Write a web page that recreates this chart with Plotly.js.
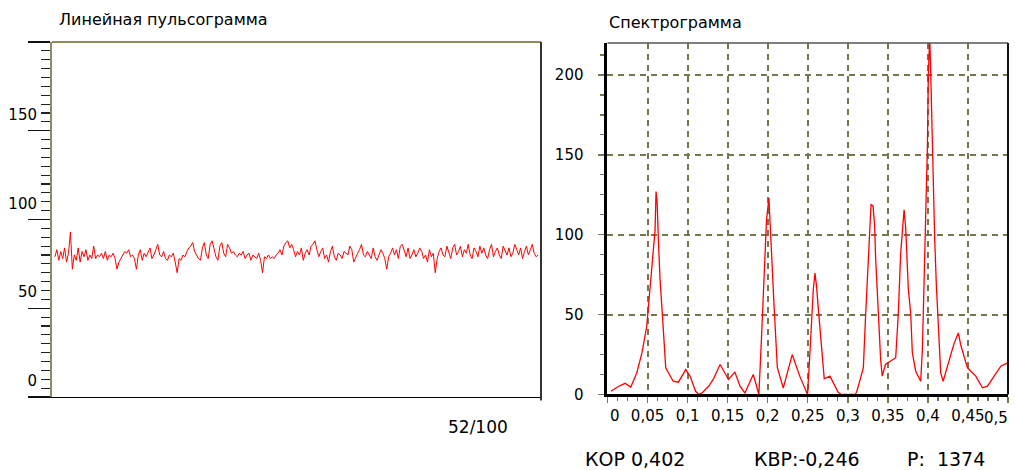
<!DOCTYPE html>
<html>
<head>
<meta charset="utf-8">
<script src="https://cdn.plot.ly/plotly-3.0.1.min.js"></script>
<style>html,body{margin:0;padding:0;background:#fff;}#chart{width:1015px;height:470px;}</style>
</head>
<body>
<div id="chart"></div>
<script>
// Линейная пульсограмма (pulse values per beat)
const pulseValues = [
79,83,77,82,78,84,76,81,93,72,
80,77,84,76,82,79,83,77,80,78,
85,78,80,79,81,78,82,77,80,79,
81,78,72,76,78,80,82,81,83,79,
80,78,72,80,83,77,81,79,82,84,
78,80,83,86,80,79,82,78,77,80,
79,81,76,70,78,77,80,79,82,84,
85,87,82,80,78,77,84,87,80,78,
86,88,83,79,77,85,87,81,79,86,
84,81,82,80,79,81,80,82,78,80,
81,77,80,79,78,81,77,70,79,78,
80,78,79,78,80,81,83,80,85,87,
88,84,86,83,79,82,80,84,77,81,
83,80,85,86,88,83,79,82,84,78,
80,76,82,85,79,77,81,80,78,82,
81,80,85,83,76,79,81,83,86,80,
79,82,80,78,84,79,77,80,83,81,
78,72,79,81,84,80,83,78,85,86,
82,79,84,78,80,83,79,81,84,82,
78,80,76,83,79,81,70,78,82,84,
80,79,85,81,78,84,86,80,82,85,
79,83,81,86,80,78,84,82,79,85,
81,84,80,78,83,86,79,82,84,80,
78,85,82,80,84,79,81,86,83,80,
84,78,82,85,80,83,86,81,79,80
];
const pulseIndex = pulseValues.map((_, i) => i);
const pulseTickVals = [0, 50, 100, 150, 200];
const pulseTickText = ['0', '50', '100', '150', ''];

// Спектрограмма
const specFreq = [
0.0044,0.0135,0.022,0.029,0.0365,0.043,0.049,0.051,0.055,0.058,
0.0594,0.0606,0.062,0.0635,0.0656,0.0685,0.071,0.0727,0.082,0.0885,
0.0977,0.103,0.110,0.114,0.118,0.126,0.132,0.1406,0.151,0.159,
0.1656,0.1715,0.182,0.186,0.189,0.1923,0.1965,0.1985,0.2015,0.2028,
0.2048,0.208,0.212,0.2194,0.2256,0.2306,0.240,0.2497,0.2527,0.2569,
0.259,0.261,0.263,0.2673,0.2706,0.2777,0.288,0.292,0.309,0.311,
0.3152,0.3194,0.3222,0.3256,0.329,0.3315,0.3335,0.3347,0.3369,0.339,
0.341,0.343,0.347,0.3535,0.3598,0.3631,0.366,0.3703,0.3723,0.3756,
0.3785,0.3806,0.3848,0.391,0.3931,0.3952,0.3973,0.3994,0.4006,0.4023,
0.4035,0.4048,0.4069,0.4085,0.4106,0.413,0.416,0.419,0.4264,0.4327,
0.438,0.441,0.4494,0.4598,0.468,0.4744,0.4827,0.491,0.4994
];
const specPower = [
2,5,7,4.6,13.5,26,42.7,55,76,92.7,
103,127,120,97,72,50,28,16.7,8.3,7.7,
15.6,11.5,2,0,1,5,9.4,18.8,9.4,14,
5,1,12.5,5,0,36,85,109,123,111,
90,55,17,4,15.6,25,11.5,0,26,65.6,
76,67.7,55,32,9.8,11.5,1.4,0,0,1.4,
9.4,16.7,49,86,118.8,118,106,86,63.5,43.8,
22,11.5,18.8,21,23,51,88.5,115.6,104,65.6,
51,26,14.6,8.3,28,70,113.5,156,201,224,
202,169,134,97,68,45,13.5,8.3,21,32,
38.5,31,16.7,11.5,4.2,5.2,11.5,17.7,19.8
];
const specTickVals = [0, 50, 100, 150, 200];
const freqTickVals = [0, 0.05, 0.1, 0.15, 0.2, 0.25, 0.3, 0.35, 0.4, 0.45, 0.5];
const freqTickText = ['\u00a0\u00a0\u00a00', '0,05', '0,1', '0,15', '0,2', '0,25', '0,3', '0,35', '0,4', '0,45', ''];
const freqLastTick = 0.5;
const freqLastLabel = '0,5';

const pulseLabel = '52/100';
const statsLabels = ['КОР 0,402', 'КВР:-0,246', 'Р:\u00a0\u00a01374'];
const titles = ['Линейная пульсограмма', 'Спектрограмма'];

const FONT = 'DejaVu Sans, Verdana, sans-serif';
const OLIVE = '#77774f';

const traces = [
  {x: pulseIndex, y: pulseValues, type: 'scatter', mode: 'lines',
   line: {color: '#ff0000', width: 1}, xaxis: 'x', yaxis: 'y', hoverinfo: 'skip'},
  {x: specFreq, y: specPower, type: 'scatter', mode: 'lines',
   line: {color: '#ff0000', width: 1.3}, xaxis: 'x2', yaxis: 'y2', hoverinfo: 'skip'}
];

const layout = {
  width: 1015, height: 470,
  margin: {l: 0, r: 0, t: 0, b: 0},
  paper_bgcolor: '#ffffff', plot_bgcolor: '#ffffff',
  showlegend: false,
  separators: ', ',
  font: {family: FONT, size: 15, color: '#000'},
  xaxis: {
    domain: [0.05123, 0.53300], anchor: 'y',
    range: [-1.5, pulseValues.length + 0.5],
    showgrid: false, zeroline: false, showticklabels: false, ticks: '',
    showline: true, linecolor: '#000', linewidth: 1.5
  },
  yaxis: {
    domain: [0.15532, 0.91064], anchor: 'x',
    range: [0, 200], tickmode: 'array',
    tickvals: pulseTickVals, ticktext: pulseTickText,
    showgrid: false, zeroline: false,
    showline: true, linecolor: '#8c8c5e', linewidth: 2,
    ticks: 'outside', ticklen: 22, tickwidth: 1.2, tickcolor: '#111',
    ticklabelstandoff: -12, ticklabelshift: -16,
    tickfont: {family: FONT, size: 15, color: '#000'},
    minor: {dtick: 5, tick0: 0, ticks: 'outside', ticklen: 9, tickwidth: 1.2, tickcolor: '#222', showgrid: false}
  },
  xaxis2: {
    domain: [0.59852, 0.99310], anchor: 'y2',
    range: [0, 0.5], tickmode: 'array', tickvals: freqTickVals, ticktext: freqTickText,
    showgrid: true, gridcolor: OLIVE, gridwidth: 2, griddash: '6px,5px',
    zeroline: false, showline: true, linecolor: '#000', linewidth: 3,
    ticks: 'outside', ticklen: 6, tickwidth: 1.5, tickcolor: OLIVE,
    tickfont: {family: FONT, size: 15, color: '#000'},
    minor: {dtick: 0.0125, tick0: 0, ticks: 'outside', ticklen: 4, tickwidth: 1.2, tickcolor: OLIVE, showgrid: false}
  },
  yaxis2: {
    domain: [0.16064, 0.90851], anchor: 'x2',
    range: [0, 220], tickmode: 'array', tickvals: specTickVals,
    showgrid: true, gridcolor: OLIVE, gridwidth: 2, griddash: '6px,5px',
    zeroline: false, showline: true, linecolor: '#000', linewidth: 3,
    ticks: 'outside', ticklen: 6, tickwidth: 1.5, tickcolor: OLIVE,
    ticklabelstandoff: 12,
    tickfont: {family: FONT, size: 15, color: '#000'},
    minor: {dtick: 12.5, tick0: 0, ticks: 'outside', ticklen: 4, tickwidth: 1.2, tickcolor: OLIVE, showgrid: false}
  },
  shapes: [
    {type: 'line', xref: 'x domain', yref: 'y domain', x0: 0, x1: 1, y0: 1, y1: 1,
     line: {color: '#8c8c5e', width: 2}},
    {type: 'line', xref: 'x domain', yref: 'y domain', x0: 1, x1: 1, y0: -0.01, y1: 1,
     line: {color: '#333', width: 2}},
    {type: 'line', xref: 'x2 domain', yref: 'y2 domain', x0: 0, x1: 1, y0: 1, y1: 1,
     line: {color: '#555', width: 1.5}},
    {type: 'line', xref: 'x2 domain', yref: 'y2 domain', x0: 1, x1: 1, y0: 0, y1: 1,
     line: {color: '#111', width: 2}}
  ],
  annotations: [
    {text: titles[0], xref: 'paper', yref: 'paper', x: 0.05616, y: 0.95745,
     xanchor: 'left', yanchor: 'middle', showarrow: false, font: {family: FONT, size: 16, color: '#000'}},
    {text: titles[1], xref: 'paper', yref: 'paper', x: 0.5980, y: 0.95319,
     xanchor: 'left', yanchor: 'middle', showarrow: false, font: {family: FONT, size: 16, color: '#000'}},
    {text: freqLastLabel, xref: 'x2', yref: 'paper', x: freqLastTick, y: 0.1106,
     xanchor: 'right', yanchor: 'middle', xshift: 2, showarrow: false, font: {family: FONT, size: 15, color: '#000'}},
    {text: pulseLabel, xref: 'paper', yref: 'paper', x: 0.4714, y: 0.09149,
     xanchor: 'center', yanchor: 'middle', showarrow: false, font: {family: FONT, size: 17, color: '#000'}},
    {text: statsLabels[0], xref: 'paper', yref: 'paper', x: 0.5744, y: 0.0234,
     xanchor: 'left', yanchor: 'middle', showarrow: false, font: {family: FONT, size: 19, color: '#000'}},
    {text: statsLabels[1], xref: 'paper', yref: 'paper', x: 0.7409, y: 0.0234,
     xanchor: 'left', yanchor: 'middle', showarrow: false, font: {family: FONT, size: 19, color: '#000'}},
    {text: statsLabels[2], xref: 'paper', yref: 'paper', x: 0.8916, y: 0.0234,
     xanchor: 'left', yanchor: 'middle', showarrow: false, font: {family: FONT, size: 19, color: '#000'}}
  ]
};

Plotly.newPlot('chart', traces, layout, {staticPlot: true, displayModeBar: false});
</script>
</body>
</html>
